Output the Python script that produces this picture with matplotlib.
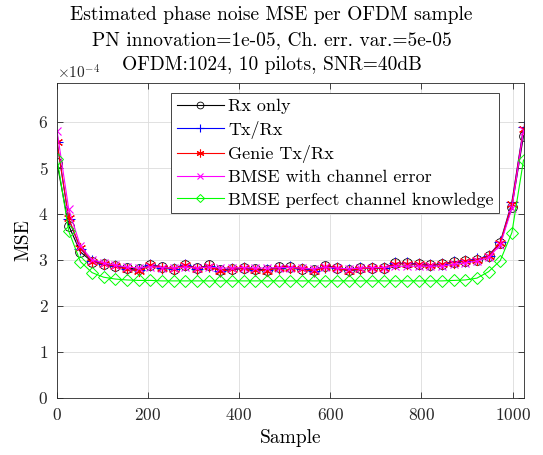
import numpy as np
import matplotlib
matplotlib.use("Agg")
import matplotlib.pyplot as plt

plt.rcParams['font.family'] = ['cmr10', 'DejaVu Serif']
plt.rcParams['mathtext.fontset'] = 'cm'
plt.rcParams['axes.formatter.use_mathtext'] = True
plt.rcParams['axes.unicode_minus'] = False

samples = np.linspace(1, 1024, 41)

rx_only = [5.10, 3.74, 3.17, 2.96, 2.91, 2.87, 2.82, 2.79, 2.89, 2.84, 2.80, 2.89, 2.81, 2.88,
           2.78, 2.80, 2.82, 2.79, 2.78, 2.84, 2.84, 2.80, 2.77, 2.86, 2.83, 2.78, 2.81, 2.83,
           2.82, 2.92, 2.92, 2.91, 2.89, 2.91, 2.95, 2.98, 3.00, 3.08, 3.36, 4.15, 5.70]
tx_rx = [5.55, 3.88, 3.24, 2.97, 2.90, 2.86, 2.80, 2.77, 2.88, 2.83, 2.80, 2.89, 2.80, 2.87,
         2.76, 2.79, 2.82, 2.78, 2.77, 2.83, 2.84, 2.80, 2.76, 2.85, 2.82, 2.77, 2.81, 2.82,
         2.81, 2.92, 2.92, 2.90, 2.88, 2.91, 2.95, 2.98, 3.01, 3.09, 3.38, 4.25, 5.88]
genie = [5.55, 3.90, 3.25, 2.96, 2.90, 2.86, 2.79, 2.76, 2.88, 2.83, 2.80, 2.89, 2.79, 2.87,
         2.75, 2.79, 2.81, 2.78, 2.76, 2.83, 2.83, 2.79, 2.75, 2.85, 2.82, 2.76, 2.80, 2.82,
         2.81, 2.91, 2.91, 2.90, 2.88, 2.90, 2.94, 2.97, 3.00, 3.08, 3.37, 4.22, 5.85]
bmse_err = [5.80, 4.10, 3.30, 3.00, 2.93, 2.88, 2.84, 2.82, 2.85, 2.83, 2.82, 2.84, 2.82, 2.84,
            2.82, 2.82, 2.83, 2.82, 2.82, 2.83, 2.83, 2.82, 2.80, 2.84, 2.82, 2.80, 2.82, 2.83,
            2.83, 2.86, 2.86, 2.86, 2.86, 2.86, 2.90, 2.93, 2.97, 3.05, 3.32, 4.12, 5.80]
bmse_perf = [5.20, 3.62, 2.96, 2.72, 2.62, 2.58, 2.56, 2.55, 2.55, 2.54, 2.54, 2.54, 2.54, 2.54,
             2.54, 2.54, 2.54, 2.54, 2.54, 2.54, 2.54, 2.54, 2.54, 2.54, 2.54, 2.54, 2.54, 2.54,
             2.54, 2.54, 2.54, 2.54, 2.54, 2.54, 2.55, 2.56, 2.60, 2.74, 2.98, 3.59, 5.17]

labels = ['Rx only', 'Tx/Rx', 'Genie Tx/Rx', 'BMSE with channel error',
          'BMSE perfect channel knowledge']
title_lines = ['Estimated phase noise MSE per OFDM sample',
               'PN innovation=1e-05, Ch. err. var.=5e-05',
               'OFDM:1024, 10 pilots, SNR=40dB']

W, H = 543, 455
fig = plt.figure(figsize=(W/100, H/100), dpi=100)
ax = fig.add_axes([56.6/W, 1 - 397.7/H, 467.4/W, 315/H])

scale = 1e-4
asterisk = (6, 2, 0)
ax.plot(samples, np.array(rx_only)*scale, color='black', marker='o', mfc='none',
        ms=7, lw=0.8, mew=0.6, label=labels[0])
ax.plot(samples, np.array(tx_rx)*scale, color='blue', marker='+', ms=8, lw=0.8,
        mew=0.8, label=labels[1])
ax.plot(samples, np.array(genie)*scale, color='red', marker=asterisk, ms=8, lw=0.8,
        mew=0.8, label=labels[2])
ax.plot(samples, np.array(bmse_err)*scale, color='magenta', marker='x', ms=6, lw=0.8,
        mew=0.8, label=labels[3])
ax.plot(samples, np.array(bmse_perf)*scale, color='#00ff00', marker='D', mfc='none',
        ms=6, lw=0.8, mew=0.7, label=labels[4])

ax.set_xlim(0, 1025)
ax.set_ylim(0, 6.85e-4)
ax.set_xticks([0, 200, 400, 600, 800, 1000])
ax.set_yticks(np.arange(0, 7)*1e-4)
ax.ticklabel_format(axis='y', style='sci', scilimits=(-4, -4))
ax.grid(True, color='#dcdcdc', lw=0.6)
ax.set_axisbelow(True)
for s in ax.spines.values():
    s.set_color('#262626')
    s.set_linewidth(0.6)
ax.tick_params(axis='x', pad=7)
ax.tick_params(direction='in', top=True, right=True, labelsize=12.5, colors='#262626',
               length=4, width=0.6)
ax.tick_params(axis='y', pad=6)
ax.yaxis.get_offset_text().set_fontsize(11)
ax.set_xlabel('Sample', fontsize=14, labelpad=4)
ax.set_ylabel('MSE', fontsize=14, labelpad=4)

for i, line in enumerate(title_lines):
    fig.text(0.5, 1 - (20 + 25*i)/H, line, ha='center', va='baseline',
             fontsize=14, color='black')

leg = ax.legend(loc='upper right', bbox_to_anchor=(0.9465, 0.967), fontsize=13,
                frameon=True, fancybox=False, edgecolor='#262626', framealpha=1,
                handlelength=2.6, borderpad=0.3, labelspacing=0.36, handletextpad=0.25,
                borderaxespad=0, markerscale=0.7)
leg.get_frame().set_linewidth(0.6)

fig.savefig('out.png', dpi=100)
